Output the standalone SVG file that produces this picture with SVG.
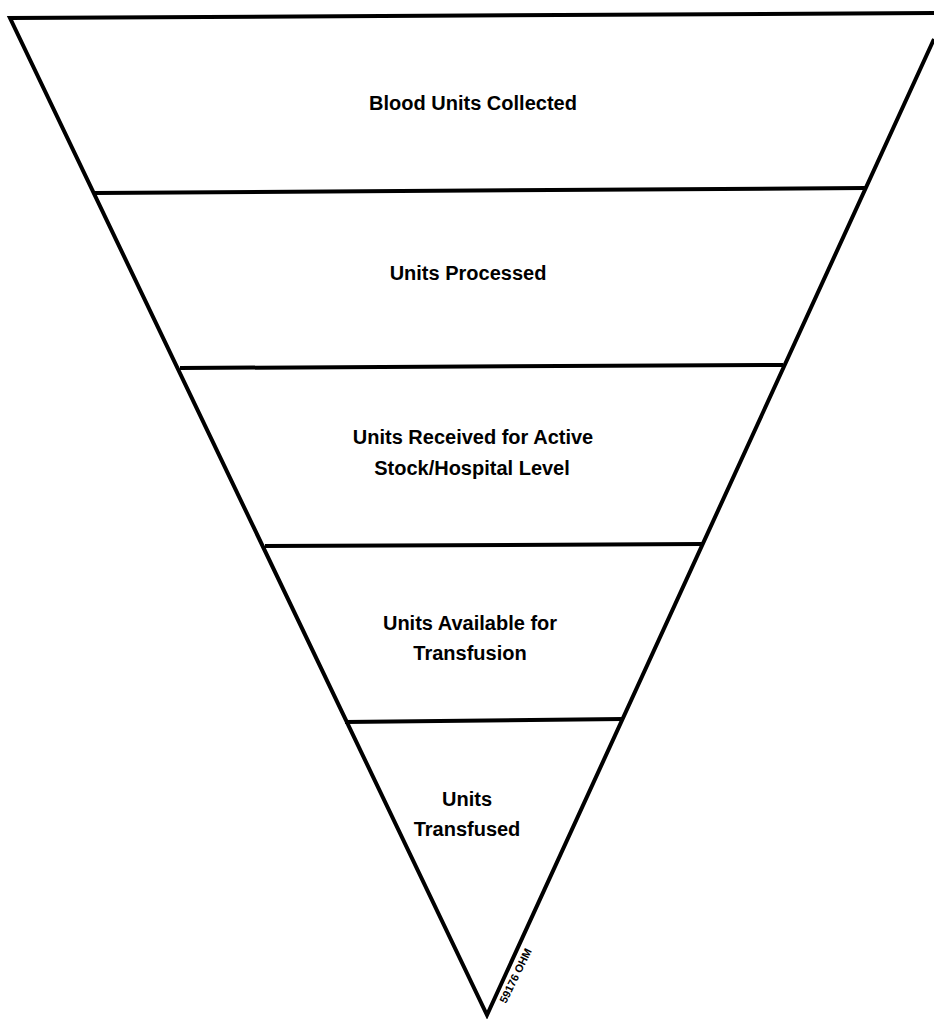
<svg xmlns="http://www.w3.org/2000/svg" width="934" height="1019" viewBox="0 0 934 1019">
<style>
.edge{stroke:#000;stroke-width:4;fill:none;stroke-linecap:butt;stroke-linejoin:miter}
.lbl{font-family:"Liberation Sans",Arial,Helvetica,sans-serif;font-size:20px;font-weight:bold;fill:#000;text-anchor:middle}
.code{font-family:"Liberation Sans",Arial,sans-serif;font-size:11px;font-weight:bold;fill:#000}
</style>
<rect width="934" height="1019" fill="#fff"/>
<g id="outline">
<polyline class="edge" points="934,13 10,18 487,1015 934,39"/>
</g>
<g id="dividers">
<line class="edge" x1="95" y1="193" x2="865" y2="188"/>
<line class="edge" x1="180" y1="368" x2="783" y2="365"/>
<line class="edge" x1="265" y1="546" x2="702" y2="544"/>
<line class="edge" x1="345" y1="722" x2="623" y2="719"/>
</g>
<g id="level1"><text class="lbl" x="473" y="110">Blood Units Collected</text></g>
<g id="level2"><text class="lbl" x="468" y="280">Units Processed</text></g>
<g id="level3"><text class="lbl" x="473" y="444">Units Received for Active</text><text class="lbl" x="472" y="475">Stock/Hospital Level</text></g>
<g id="level4"><text class="lbl" x="470" y="630">Units Available for</text><text class="lbl" x="470" y="660">Transfusion</text></g>
<g id="level5"><text class="lbl" x="467" y="806">Units</text><text class="lbl" x="467" y="836">Transfused</text></g>
<g id="code"><text class="code" transform="translate(506,1004) rotate(-64)">59176 OHM</text></g>
</svg>
